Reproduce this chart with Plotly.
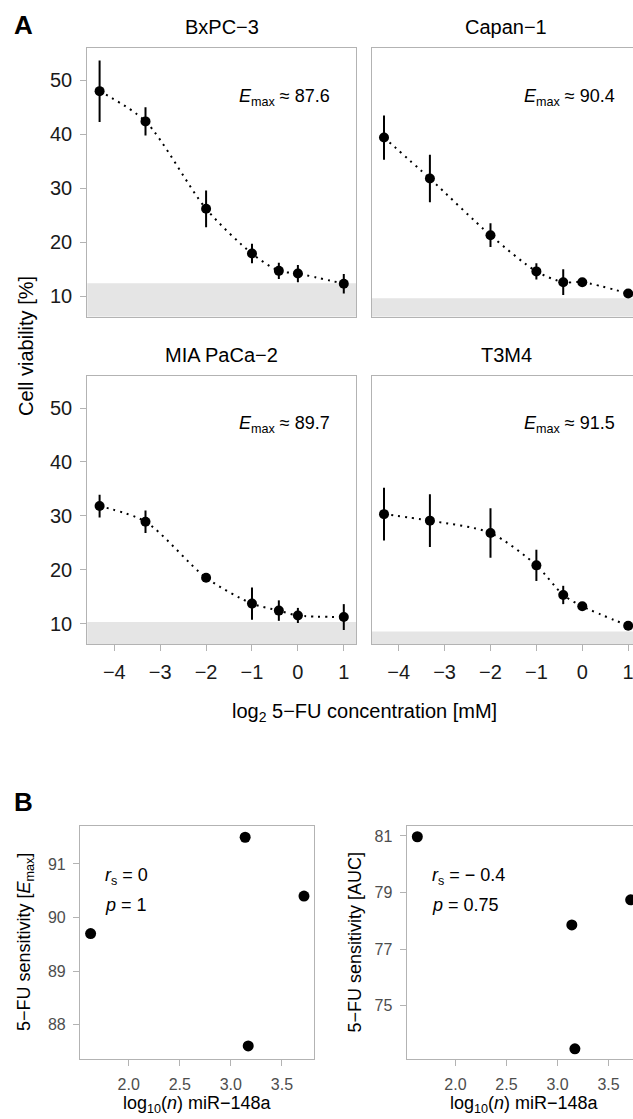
import plotly.graph_objects as go

W, H = 633, 1119
FONT = "Liberation Sans, Arial, Helvetica, sans-serif"
FRAME = "#b3b3b3"

# ---------------- data ----------------
cell_lines = ["BxPC−3", "Capan−1", "MIA PaCa−2", "T3M4"]
log2_conc = [-4.32, -3.32, -2.0, -1.0, -0.415, 0.0, 1.0]

viab_bxpc3 = [48.0, 42.4, 26.2, 17.9, 14.7, 14.2, 12.3]
sd_bxpc3 = [5.7, 2.6, 3.4, 1.8, 1.5, 1.6, 1.8]
viab_capan1 = [39.4, 31.8, 21.3, 14.6, 12.6, 12.6, 10.5]
sd_capan1 = [4.1, 4.4, 2.2, 1.5, 2.4, 0.3, 0.3]
viab_mia = [31.8, 28.9, 18.5, 13.7, 12.4, 11.5, 11.2]
sd_mia = [2.1, 2.1, 0.8, 3.0, 1.9, 1.4, 2.4]
viab_t3m4 = [30.3, 29.1, 26.8, 20.8, 15.3, 13.2, 9.6]
sd_t3m4 = [4.9, 4.9, 4.6, 2.9, 1.7, 0.4, 0.3]

emax = [87.6, 90.4, 89.7, 91.5]
auc = [73.47, 78.74, 80.97, 77.85]
mir148a_log10 = [3.17, 3.716, 1.627, 3.14]

rs_emax, p_emax = "0", "1"
rs_auc, p_auc = "− 0.4", "0.75"

a_yticks = [10, 20, 30, 40, 50]
a_xticks = [-4, -3, -2, -1, 0, 1]
b_xticks = [2.0, 2.5, 3.0, 3.5]
b_yticks_emax = [88, 89, 90, 91]
b_yticks_auc = [75, 77, 79, 81]

viab = [viab_bxpc3, viab_capan1, viab_mia, viab_t3m4]
sds = [sd_bxpc3, sd_capan1, sd_mia, sd_t3m4]

# ---------------- layout helpers ----------------
def fx(x):
    return x / W


def fy(y):
    return 1 - y / H


A_COLS = [(87.3, 356.0), (371.7, 633.0)]
A_ROWS = [(48.0, 316.7), (375.7, 644.0)]
A_YRANGE = [6.2, 56.0]
A_XRANGE_FULL = [-4.588, 1.266]
A_XRANGE_CLIP = [-4.588, 1.105]

B_COLS = [(80.0, 314.3), (406.7, 633.0)]
B_ROW = (826.0, 1059.3)
B_XRANGE_FULL = [1.523, 3.817]
B_XRANGE_CLIP = [1.523, 3.739]
B_YRANGE_EMAX = [87.35, 91.71]
B_YRANGE_AUC = [73.1, 81.35]

fig = go.Figure()
layout = dict(
    width=W, height=H, autosize=False,
    margin=dict(l=0, r=0, t=0, b=0),
    paper_bgcolor="white", plot_bgcolor="white",
    showlegend=False,
    font=dict(family=FONT, color="black"),
)
shapes = []
annotations = []


def axis_common():
    return dict(showgrid=False, zeroline=False, showline=True, linecolor=FRAME,
                linewidth=1.2, ticks="outside", tickcolor=FRAME, tickwidth=1.2, ticklen=6,
                ticklabeloverflow="allow")


# ---------------- panel A ----------------
for i, name in enumerate(cell_lines):
    r, c = divmod(i, 2)
    k = i + 1
    xa = "x" if k == 1 else f"x{k}"
    ya = "y" if k == 1 else f"y{k}"
    xkey = "xaxis" if k == 1 else f"xaxis{k}"
    ykey = "yaxis" if k == 1 else f"yaxis{k}"
    x0, x1 = A_COLS[c]
    y0, y1 = A_ROWS[r]

    xax = axis_common()
    xax.update(domain=[fx(x0), fx(x1)], anchor=ya, mirror=True,
               range=A_XRANGE_FULL if c == 0 else A_XRANGE_CLIP,
               tickvals=a_xticks, tickfont=dict(size=20, color="#1a1a1a"),
               ticklabelstandoff=4)
    if r == 0:
        xax.update(ticks="", showticklabels=False)
    yax = axis_common()
    yax.update(domain=[fy(y1), fy(y0)], anchor=xa, mirror=(c == 0),
               range=A_YRANGE, tickvals=a_yticks,
               tickfont=dict(size=20, color="#1a1a1a"), ticklabelstandoff=4)
    if c == 1:
        yax.update(ticks="", showticklabels=False)
    layout[xkey] = xax
    layout[ykey] = yax

    # shaded region below 100 - Emax
    shapes.append(dict(type="rect", xref=f"{xa} domain", yref=ya, x0=0, x1=1,
                       y0=A_YRANGE[0], y1=100 - emax[i], fillcolor="#e5e5e5",
                       line=dict(width=0), layer="below"))

    fig.add_trace(go.Scatter(x=log2_conc, y=viab[i], mode="lines", xaxis=xa, yaxis=ya,
                             line=dict(color="black", width=2, dash="2px,5px",
                                       shape="spline", smoothing=0.8),
                             hoverinfo="skip"))
    fig.add_trace(go.Scatter(x=log2_conc, y=viab[i], mode="markers", xaxis=xa, yaxis=ya,
                             marker=dict(color="black", size=10),
                             error_y=dict(type="data", array=sds[i], visible=True,
                                          color="black", thickness=2, width=0)))

    annotations.append(dict(x=0.75, y=46.9, xref=xa, yref=ya, xanchor="right",
                            yanchor="middle", showarrow=False,
                            text=f"<i>E</i><sub>max</sub> ≈ {emax[i]}",
                            font=dict(size=18, color="black")))
    annotations.append(dict(x=fx((x0 + x0 + 268.7) / 2), y=fy((y0 - 21)), xref="paper",
                            yref="paper", xanchor="center", yanchor="middle",
                            showarrow=False, text=name,
                            font=dict(size=20, color="black")))

annotations.append(dict(x=fx(12), y=fy(25), xref="paper", yref="paper", xanchor="left",
                        yanchor="middle", showarrow=False, text="<b>A</b>",
                        font=dict(size=26, color="black")))
annotations.append(dict(x=fx(26), y=fy(346), xref="paper", yref="paper", xanchor="center",
                        yanchor="middle", showarrow=False, textangle=-90,
                        text="Cell viability [%]", font=dict(size=20, color="black")))
annotations.append(dict(x=fx(364), y=fy(712), xref="paper", yref="paper", xanchor="center",
                        yanchor="middle", showarrow=False,
                        text="log<sub>2</sub> 5−FU concentration [mM]",
                        font=dict(size=20, color="black")))

# ---------------- panel B ----------------
b_sets = [
    (emax, B_YRANGE_EMAX, b_yticks_emax, "5−FU sensitivity [<i>E</i><sub>max</sub>]", rs_emax, p_emax),
    (auc, B_YRANGE_AUC, b_yticks_auc, "5−FU sensitivity [AUC]", rs_auc, p_auc),
]
for j, (vals, yr, ytv, ytitle, rs, pv) in enumerate(b_sets):
    k = 5 + j
    xa, ya = f"x{k}", f"y{k}"
    x0, x1 = B_COLS[j]
    y0, y1 = B_ROW
    xax = axis_common()
    xax.update(domain=[fx(x0), fx(x1)], anchor=ya, mirror=True,
               range=B_XRANGE_FULL if j == 0 else B_XRANGE_CLIP,
               tickvals=b_xticks, tickformat=".1f",
               tickfont=dict(size=16, color="#4d4d4d"), ticklabelstandoff=4)
    yax = axis_common()
    yax.update(domain=[fy(y1), fy(y0)], anchor=xa, mirror=(j == 0), range=yr,
               tickvals=ytv, tickfont=dict(size=16, color="#4d4d4d"), ticklabelstandoff=4)
    layout[f"xaxis{k}"] = xax
    layout[f"yaxis{k}"] = yax

    fig.add_trace(go.Scatter(x=mir148a_log10, y=vals, mode="markers", xaxis=xa, yaxis=ya,
                             marker=dict(color="black", size=11)))

    annotations.append(dict(x=1.75, y=0.783, xref=xa, yref=f"{ya} domain", xanchor="left",
                            yanchor="middle", showarrow=False,
                            text=f"<i>r</i><sub>s</sub> = {rs}",
                            font=dict(size=18, color="black")))
    annotations.append(dict(x=1.75, y=0.661, xref=xa, yref=f"{ya} domain", xanchor="left",
                            yanchor="middle", showarrow=False,
                            text=f"<i>p</i> = {pv}",
                            font=dict(size=18, color="black")))
    ytx = 25 if j == 0 else 354.6
    annotations.append(dict(x=fx(ytx), y=fy(942), xref="paper", yref="paper",
                            xanchor="center", yanchor="middle", showarrow=False,
                            textangle=-90, text=ytitle, font=dict(size=18, color="black")))
    xtx = 197 if j == 0 else 524
    annotations.append(dict(x=fx(xtx), y=fy(1104), xref="paper", yref="paper",
                            xanchor="center", yanchor="middle", showarrow=False,
                            text="log<sub>10</sub>(<i>n</i>) miR−148a",
                            font=dict(size=18, color="black")))

annotations.append(dict(x=fx(12), y=fy(802), xref="paper", yref="paper", xanchor="left",
                        yanchor="middle", showarrow=False, text="<b>B</b>",
                        font=dict(size=26, color="black")))

layout["shapes"] = shapes
layout["annotations"] = annotations
fig.update_layout(**layout)
fig.write_html("out.html", config={"displayModeBar": False},
               post_script="document.body.style.margin='0px';document.body.style.overflow='hidden';")
